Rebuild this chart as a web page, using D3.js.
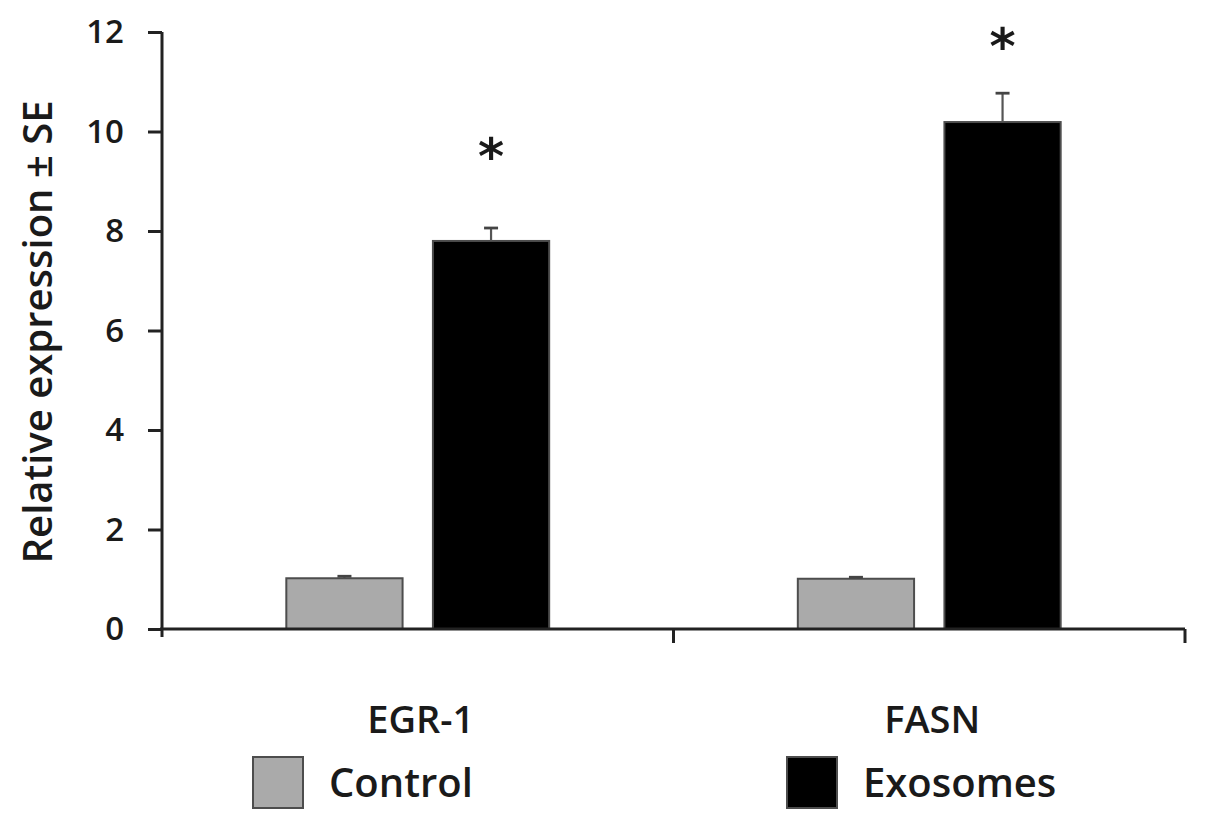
<!DOCTYPE html>
<html>
<head>
<meta charset="utf-8">
<script src="https://cdn.jsdelivr.net/npm/d3@7"></script>
<style>
  html, body { margin: 0; padding: 0; background: #fff; }
  svg { display: block; }
  text { font-family: "Open Sans", sans-serif; fill: #1a1a1a; font-weight: 600; }
</style>
</head>
<body>
<svg id="chart" width="1205" height="830"></svg>
<script>
// ---- data ----
const categories = ["EGR-1", "FASN"];
const series = ["Control", "Exosomes"];
const controlValues = [1.02, 1.01];
const controlSE = [0.04, 0.03];
const exosomeValues = [7.8, 10.19];
const exosomeSE = [0.26, 0.58];
const significance = ["*", "*"];
const sigLevel = [9.65, 11.85];
const yTicks = [0, 2, 4, 6, 8, 10, 12];
const yLabel = "Relative expression \u00B1 SE";

(function () {
const values = [controlValues, exosomeValues];
const errors = [controlSE, exosomeSE];
const fills = ["#aaaaaa", "#000000"];

const svg = d3.select("#chart");
const mLeft = 162, mRight = 1185, mTop = 32, mBottom = 629;

const y = d3.scaleLinear().domain([0, 12]).range([mBottom, mTop]);
const x0 = d3.scaleBand().domain(categories).range([mLeft, mRight]).paddingInner(0).paddingOuter(0);
const x1 = d3.scaleBand().domain(series).range([0, x0.bandwidth()]).paddingInner(0.207).paddingOuter(0.848);

const rows = [];
categories.forEach((c, ci) => series.forEach((s, si) => rows.push({c, s, si, v: values[si][ci], e: errors[si][ci]})));

const g = svg.append("g");
g.selectAll("rect.bar").data(rows).enter().append("rect")
  .attr("class", "bar")
  .attr("x", d => x0(d.c) + x1(d.s))
  .attr("y", d => y(d.v))
  .attr("width", x1.bandwidth())
  .attr("height", d => y(0) - y(d.v))
  .attr("fill", d => fills[d.si])
  .attr("stroke", "#4d4d4d")
  .attr("stroke-width", 2);

const cx = d => x0(d.c) + x1(d.s) + x1.bandwidth() / 2;
const eb = g.selectAll("g.err").data(rows).enter().append("g").attr("class", "err");
eb.append("line")
  .attr("x1", cx).attr("x2", cx)
  .attr("y1", d => y(d.v))
  .attr("y2", d => y(d.v + d.e))
  .attr("stroke", "#555").attr("stroke-width", 2.2);
eb.append("line")
  .attr("x1", d => cx(d) - 7)
  .attr("x2", d => cx(d) + 7)
  .attr("y1", d => y(d.v + d.e))
  .attr("y2", d => y(d.v + d.e))
  .attr("stroke", "#444").attr("stroke-width", 2.8);

g.selectAll("text.sig").data(categories).enter().append("text")
  .attr("class", "sig")
  .attr("x", c => x0(c) + x1("Exosomes") + x1.bandwidth() / 2)
  .attr("y", (c, i) => y(sigLevel[i]) + 8)
  .attr("text-anchor", "middle")
  .attr("dominant-baseline", "central")
  .style("font-family", "'DejaVu Sans', sans-serif")
  .style("font-weight", "bold")
  .style("font-size", "50px")
  .text((c, i) => significance[i]);

const yAxis = d3.axisLeft(y).tickValues(yTicks).tickSize(14).tickPadding(24).tickSizeOuter(0);
const yg = svg.append("g").attr("transform", `translate(${mLeft},0)`).call(yAxis);
yg.select(".domain").attr("stroke", "#222").attr("stroke-width", 3)
  .attr("d", `M0,${y(12)}V${mBottom + 8}`);
yg.selectAll(".tick line").attr("stroke", "#222").attr("stroke-width", 3);
yg.selectAll(".tick text").style("font-family", "'Open Sans', sans-serif").style("font-weight", "600")
  .style("font-size", "33px").attr("fill", "#1a1a1a");

const xg = svg.append("g").attr("transform", `translate(0,${mBottom})`);
xg.append("line").attr("x1", mLeft - 2).attr("x2", mRight).attr("y1", 0).attr("y2", 0)
  .attr("stroke", "#222").attr("stroke-width", 3);
const boundaries = categories.map(c => x0(c) + x0.bandwidth());
xg.selectAll("line.xt").data(boundaries).enter().append("line")
  .attr("class", "xt")
  .attr("x1", d => d).attr("x2", d => d).attr("y1", 0).attr("y2", 14)
  .attr("stroke", "#222").attr("stroke-width", 3);
xg.selectAll("text.xl").data(categories).enter().append("text")
  .attr("class", "xl")
  .attr("x", c => x0(c) + x0.bandwidth() / 2 + 3)
  .attr("y", 104)
  .attr("text-anchor", "middle")
  .style("font-size", "38px")
  .text(c => c);

svg.append("text")
  .attr("transform", `translate(52,332) rotate(-90)`)
  .attr("text-anchor", "middle")
  .style("font-size", "40px")
  .text(yLabel);

const legendX = [253, 787];
const lg = svg.selectAll("g.leg").data(series).enter().append("g").attr("class", "leg")
  .attr("transform", (s, i) => `translate(${legendX[i]},757)`);
lg.append("rect").attr("width", 50).attr("height", 51)
  .attr("fill", (s, i) => fills[i]).attr("stroke", "#4d4d4d").attr("stroke-width", 2);
lg.append("text").attr("x", 76).attr("y", 40)
  .style("font-size", "40px")
  .text(s => s);
})();
</script>
</body>
</html>
